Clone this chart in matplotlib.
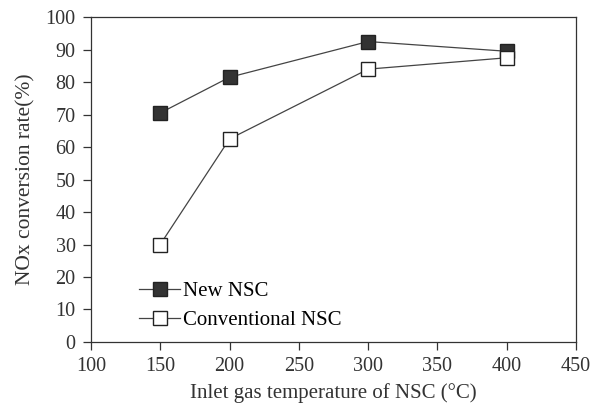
import matplotlib

matplotlib.use("Agg")
import matplotlib.pyplot as plt

temps = [150, 200, 300, 400]
new_nsc = [70.5, 81.5, 92.5, 89.5]
conv_nsc = [30, 62.5, 84, 87.5]
x_ticks = [100, 150, 200, 250, 300, 350, 400, 450]
y_ticks = list(range(0, 101, 10))

plt.rcParams["font.family"] = ["Liberation Serif", "DejaVu Serif"]

fig = plt.figure(figsize=(6.02, 4.09), dpi=100)
ax = fig.add_axes([0.151, 0.164, 0.806, 0.794])

ax.plot(temps, new_nsc, color="#444444", linewidth=0.9, marker="s",
        markersize=10.5, markerfacecolor="#333333", markeredgecolor="#222222",
        label="New NSC")
ax.plot(temps, conv_nsc, color="#444444", linewidth=0.9, marker="s",
        markersize=10.5, markerfacecolor="white", markeredgecolor="#222222",
        label="Conventional NSC")

ax.set_xlim(100, 450)
ax.set_ylim(0, 100)
ax.set_xticks(x_ticks)
ax.set_yticks(y_ticks)
ax.tick_params(direction="out", length=6, width=0.9, labelsize=14.5,
               colors="#333333", pad=5)
for s in ax.spines.values():
    s.set_linewidth(0.9)
    s.set_color("#333333")

ax.set_xlabel("Inlet gas temperature of NSC (\u00b0C)", fontsize=15,
              color="#333333", labelpad=5)
ax.set_ylabel("NOx conversion rate(%)", fontsize=15.5, color="#333333",
              labelpad=7)

ax.legend(loc="lower left", bbox_to_anchor=(0.06, -0.022), frameon=False,
          fontsize=15, handlelength=2.0, handletextpad=0.1, labelspacing=0.45)

fig.savefig("out.png", dpi=100)
plt.close(fig)
